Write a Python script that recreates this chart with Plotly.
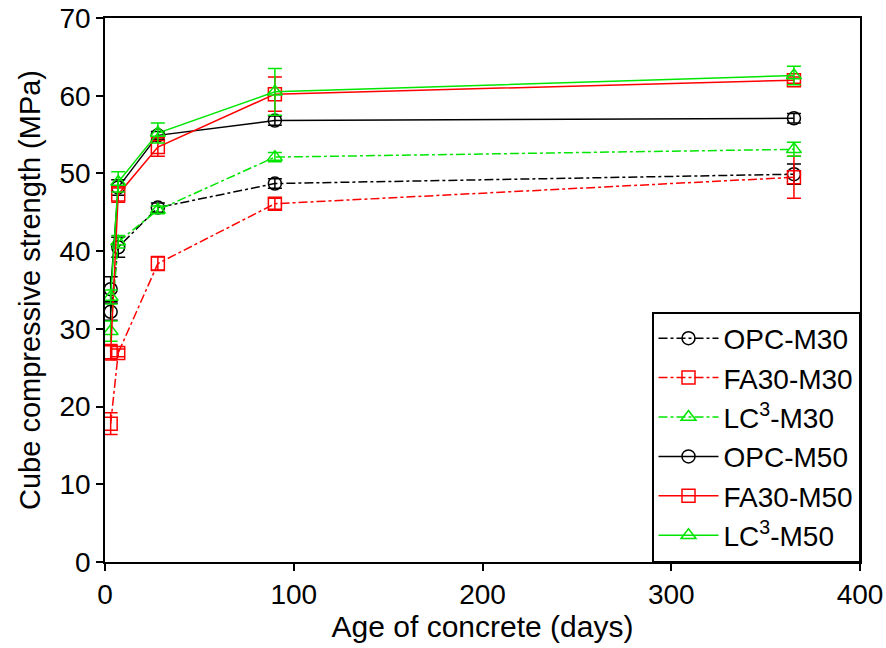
import plotly.graph_objects as go

days = [3, 7, 28, 90, 365]

opc_m30 = [32.2, 40.5, 45.6, 48.7, 49.9]
opc_m30_err = [1.1, 1.3, 0.6, 0.6, 1.3]
fa_m30 = [17.8, 26.9, 38.4, 46.1, 49.5]
fa_m30_err = [1.4, 0.5, 0.9, 0.7, 2.7]
lc_m30 = [29.7, 41.2, 45.3, 52.1, 53.1]
lc_m30_err = [1.3, 0.8, 0.5, 0.6, 0.9]
opc_m50 = [35.1, 48.2, 54.9, 56.8, 57.1]
opc_m50_err = [1.6, 1.0, 0.5, 0.6, 0.6]
fa_m50 = [27.0, 47.3, 53.4, 60.2, 62.0]
fa_m50_err = [1.0, 1.0, 1.2, 2.2, 0.4]
lc_m50 = [34.1, 48.9, 55.2, 60.5, 62.6]
lc_m50_err = [0.9, 1.3, 1.3, 3.0, 1.2]

names = ["OPC-M30", "FA30-M30", "LC<sup>3</sup>-M30", "OPC-M50", "FA30-M50", "LC<sup>3</sup>-M50"]
values = [opc_m30, fa_m30, lc_m30, opc_m50, fa_m50, lc_m50]
errors = [opc_m30_err, fa_m30_err, lc_m30_err, opc_m50_err, fa_m50_err, lc_m50_err]
colors = ["#000000", "#ff0000", "#00e600", "#000000", "#ff0000", "#00e600"]
symbols = ["circle-open", "square-open", "triangle-up-open"] * 2
dashes = ["dashdot"] * 3 + ["solid"] * 3

fig = go.Figure()
for n, v, e, c, s, d in zip(names, values, errors, colors, symbols, dashes):
    fig.add_trace(go.Scatter(
        x=days, y=v, name=n, mode="lines+markers",
        line=dict(color=c, width=1.5, dash=d),
        marker=dict(symbol=s, size=13, color=c, line=dict(width=1.5, color=c)),
        error_y=dict(type="data", array=e, visible=True, color=c, thickness=1.5, width=7),
    ))

axis_common = dict(
    showline=True, linecolor="black", linewidth=1.5, mirror=True,
    ticks="outside", ticklen=7, tickwidth=1.5, tickcolor="black",
    showgrid=False, zeroline=False, automargin=False,
    tickfont=dict(family="Liberation Sans, Arial", size=28, color="black"),
)

fig.update_layout(
    width=886, height=648,
    paper_bgcolor="white", plot_bgcolor="white",
    margin=dict(l=105, r=26, t=18, b=86),
    font=dict(family="Liberation Sans, Arial", color="black"),
    xaxis=dict(range=[0, 400], dtick=100,
               title=dict(text="Age of concrete (days)", font=dict(size=30), standoff=4),
               **axis_common),
    yaxis=dict(range=[0, 70], dtick=10,
               title=dict(text="Cube compressive strength (MPa)", font=dict(size=29), standoff=10),
               **axis_common),
    legend=dict(x=1, y=0, xanchor="right", yanchor="bottom",
                bordercolor="black", borderwidth=1.5, bgcolor="white",
                font=dict(size=28, color="black"), tracegroupgap=0,
                itemwidth=60),
    showlegend=True,
)

fig.write_html("out.html")
